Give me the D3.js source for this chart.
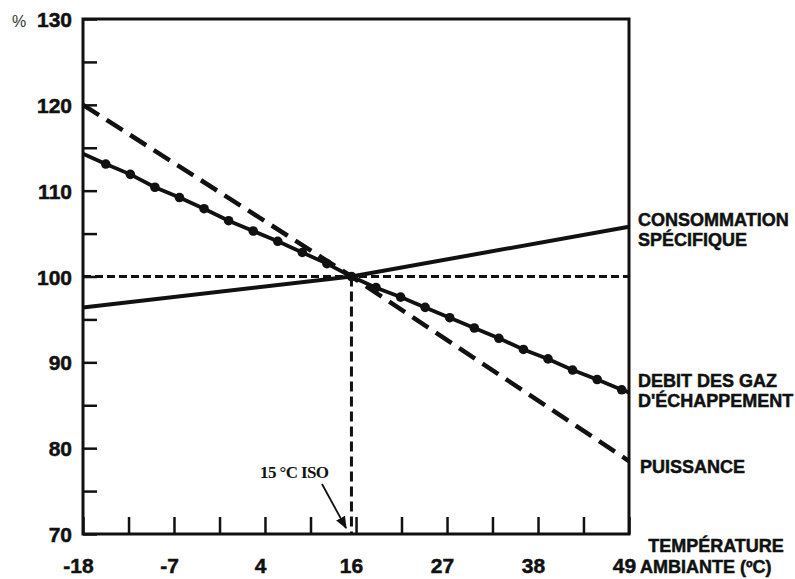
<!DOCTYPE html>
<html>
<head>
<meta charset="utf-8">
<script src="https://cdn.jsdelivr.net/npm/d3@7/dist/d3.min.js"></script>
<style>
  html, body { margin: 0; padding: 0; background: #fff; }
  svg { display: block; }
  .lab { font-family: "Liberation Sans", Arial, Helvetica, sans-serif; font-weight: bold; fill: #111; stroke: #111; stroke-width: 0.5px; }
</style>
</head>
<body>
<svg id="chart" width="795" height="579"></svg>
<script>
// ---------- DATA ----------
const yTickValues = [70, 75, 80, 85, 90, 95, 100, 105, 110, 115, 120, 125, 130];
const yTickLabels = ["70", "", "80", "", "90", "", "100", "", "110", "", "120", "", "130"];

// x positions (°C) of the ticks, labels shown every other tick
const xTickValues = [-17.78, -12.22, -6.67, -1.11, 4.44, 10, 15.56, 21.11, 26.67, 32.22, 37.78, 43.33, 48.89];
const xTickLabels = ["-18", "", "-7", "", "4", "", "16", "", "27", "", "38", "", "49"];

// Consommation spécifique (solid)
const consoTemps  = [-17.78, 15, 48.89];
const consoValues = [96.4, 100, 105.8];

// Puissance (long dashes)
const puissanceTemps  = [-17.78, 15, 48.89];
const puissanceValues = [120, 100, 78.5];

// Débit des gaz d'échappement (solid with dots)
const debitLineTemps  = [-17.78, 48.89];
const debitLineValues = [114.3, 86.5];
const debitDotTemps  = [-15, -12, -9, -6, -3, 0, 3, 6, 9, 12, 15, 18, 21, 24, 27, 30, 33, 36, 39, 42, 45, 48];
const debitDotValues = [113.1, 111.9, 110.4, 109.2, 107.9, 106.5, 105.3, 104.1, 102.8, 101.5, 100.0,
                        98.7, 97.6, 96.4, 95.2, 94.0, 92.8, 91.5, 90.4, 89.1, 88.0, 86.8];

// ISO reference
const isoTemp = 15;
const isoValue = 100;

// ---------- LAYOUT ----------
const svg = d3.select("#chart");
const L = 83, R = 629, T = 19, B = 534;

const x = d3.scaleLinear().domain([-17.78, 48.89]).range([L, R]);
const y = d3.scaleLinear().domain([70, 130]).range([B, T]);

// reference dashed lines
svg.append("line")
  .attr("x1", x(-17.78)).attr("x2", x(48.89))
  .attr("y1", y(isoValue)).attr("y2", y(isoValue))
  .attr("stroke", "#111").attr("stroke-width", 3).attr("stroke-dasharray", "8,4");
svg.append("line")
  .attr("x1", x(isoTemp)).attr("x2", x(isoTemp))
  .attr("y1", y(isoValue)).attr("y2", y(70))
  .attr("stroke", "#111").attr("stroke-width", 3).attr("stroke-dasharray", "10,5");

const line = d3.line().x(d => x(d[0])).y(d => y(d[1]));

// Consommation
svg.append("path")
  .attr("d", line(d3.zip(consoTemps, consoValues)))
  .attr("fill", "none").attr("stroke", "#111").attr("stroke-width", 4);

// Puissance
svg.append("path")
  .attr("d", line(d3.zip(puissanceTemps, puissanceValues)))
  .attr("fill", "none").attr("stroke", "#111").attr("stroke-width", 4.5)
  .attr("stroke-dasharray", "19,9");

// Débit
const debitAll = d3.zip(debitLineTemps.slice(0,1).concat(debitDotTemps, debitLineTemps.slice(1)),
                        debitLineValues.slice(0,1).concat(debitDotValues, debitLineValues.slice(1)));
svg.append("path")
  .attr("d", line(debitAll))
  .attr("fill", "none").attr("stroke", "#111").attr("stroke-width", 3.8);
svg.append("g").selectAll("circle")
  .data(d3.zip(debitDotTemps, debitDotValues))
  .join("circle")
  .attr("cx", d => x(d[0])).attr("cy", d => y(d[1])).attr("r", 4.8)
  .attr("fill", "#111");

// Frame
svg.append("rect")
  .attr("x", L).attr("y", T).attr("width", R - L).attr("height", B - T)
  .attr("fill", "none").attr("stroke", "#111").attr("stroke-width", 3);

// Axes
const yAxis = d3.axisLeft(y)
  .tickValues(yTickValues)
  .tickSize(-14)
  .tickPadding(11)
  .tickFormat((d, i) => yTickLabels[i]);
const gy = svg.append("g").attr("transform", `translate(${L},0)`).call(yAxis);
gy.select(".domain").remove();
gy.selectAll(".tick line").attr("stroke", "#111").attr("stroke-width", 2.5);
gy.selectAll(".tick text").attr("class", "lab").style("font-size", "21px").attr("dy", "0.36em");

const xAxis = d3.axisBottom(x)
  .tickValues(xTickValues)
  .tickSize(-17)
  .tickPadding(24)
  .tickFormat((d, i) => xTickLabels[i]);
const gx = svg.append("g").attr("transform", `translate(0,${B})`).call(xAxis);
gx.select(".domain").remove();
gx.selectAll(".tick line").attr("stroke", "#111").attr("stroke-width", 2.5);
gx.selectAll(".tick text").attr("class", "lab").style("font-size", "21px")
  .attr("dy", "0.71em").attr("dx", -5);

// % unit
svg.append("text").attr("x", 12).attr("y", 27)
  .style("font-family", "Liberation Sans, Arial, sans-serif").style("font-size", "16px")
  .attr("fill", "#333").text("%");

// Series labels
function label(txt, xx, yy, size, anchor) {
  svg.append("text").attr("class", "lab").attr("x", xx).attr("y", yy)
    .style("font-size", size + "px").attr("text-anchor", anchor || "start").text(txt);
}
label("CONSOMMATION", 638, 226, 18);
label("SPÉCIFIQUE", 638, 246, 18);
label("DEBIT DES GAZ", 638, 387, 18);
label("D'ÉCHAPPEMENT", 638, 407, 18);
label("PUISSANCE", 640, 473, 18);
label("TEMPÉRATURE", 716, 552, 18, "middle");
label("AMBIANTE (ºC)", 640, 573, 18);

// ISO annotation
svg.append("text").attr("x", 260).attr("y", 478)
  .style("font-family", "Liberation Serif, Times New Roman, serif").style("font-size", "17px")
  .style("font-weight", "bold").style("letter-spacing", "-0.6px")
  .attr("fill", "#111").text("15 °C ISO");

svg.append("defs").append("marker")
  .attr("id", "arr").attr("viewBox", "0 0 10 10").attr("refX", 9).attr("refY", 5)
  .attr("markerWidth", 7).attr("markerHeight", 7).attr("orient", "auto")
  .append("path").attr("d", "M0,1 L10,5 L0,9 Z").attr("fill", "#111");
svg.append("line")
  .attr("x1", 322).attr("y1", 484).attr("x2", 346).attr("y2", 528)
  .attr("stroke", "#111").attr("stroke-width", 1.8).attr("marker-end", "url(#arr)");
</script>
</body>
</html>
